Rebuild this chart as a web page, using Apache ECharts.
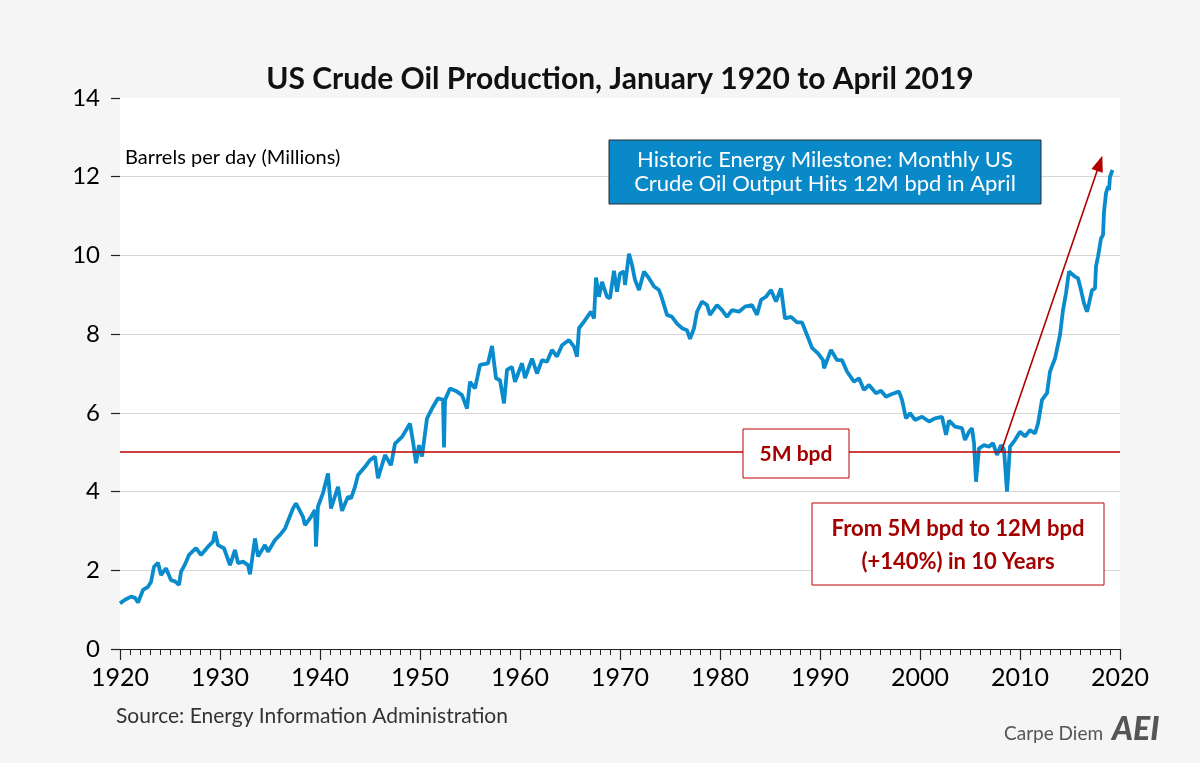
<!DOCTYPE html>
<html>
<head>
<meta charset="utf-8">
<script src="https://cdn.jsdelivr.net/npm/echarts@6/dist/echarts.min.js"></script>
<style>
html,body{margin:0;padding:0;background:#f5f5f5;}
#chart{width:1200px;height:763px;}
</style>
</head>
<body>
<div id="chart"></div>
<script>
const dates = [
1920.0,1920.5,1921.1,1921.5,1921.8,1922.3,1922.8,1923.1,1923.4,1923.8,1924.1,1924.6,1925.1,1925.5,1925.9,
1926.1,1926.5,1926.9,1927.6,1928.1,1928.8,1929.3,1929.5,1929.8,1930.4,1931.0,1931.5,1931.8,1932.3,1932.8,
1933.0,1933.5,1933.8,1934.5,1934.8,1935.5,1936.0,1936.5,1937.3,1937.6,1938.3,1938.5,1939.1,1939.5,1939.6,
1939.8,1940.3,1940.8,1941.1,1941.8,1942.2,1942.8,1943.1,1943.5,1943.8,1944.5,1945.0,1945.5,1945.8,1946.5,
1947.1,1947.5,1948.2,1949.0,1949.3,1949.6,1949.9,1950.2,1950.7,1951.2,1951.8,1952.3,1952.4,1952.5,1953.0,
1953.7,1954.2,1954.7,1955.0,1955.5,1956.0,1956.8,1957.2,1957.6,1958.0,1958.4,1958.7,1959.2,1959.5,1960.2,
1960.5,1961.2,1961.7,1962.2,1962.7,1963.2,1963.7,1964.2,1964.9,1965.4,1965.7,1965.9,1966.4,1967.1,1967.4,
1967.6,1967.9,1968.2,1968.7,1969.0,1969.4,1969.7,1970.0,1970.4,1970.5,1970.9,1971.2,1971.5,1971.9,1972.4,
1972.9,1973.4,1973.9,1974.2,1974.7,1975.2,1975.7,1976.2,1976.7,1977.0,1977.4,1977.7,1978.2,1978.7,1979.0,
1979.7,1980.2,1980.7,1981.2,1981.9,1982.5,1983.2,1983.7,1984.1,1984.6,1985.1,1985.6,1986.1,1986.5,1987.1,
1987.7,1988.2,1988.7,1989.2,1989.8,1990.3,1990.4,1991.1,1991.7,1992.2,1992.7,1993.4,1993.9,1994.4,1994.9,
1995.6,1996.1,1996.6,1997.2,1997.9,1998.2,1998.6,1999.0,1999.5,2000.2,2000.9,2001.5,2002.2,2002.6,2002.9,
2003.5,2004.2,2004.5,2004.9,2005.2,2005.4,2005.6,2005.9,2006.4,2006.9,2007.3,2007.7,2008.1,2008.4,2008.7,
2009.0,2009.5,2010.0,2010.5,2011.0,2011.5,2011.8,2012.2,2012.7,2013.0,2013.5,2014.0,2014.3,2014.6,2014.9,
2015.5,2015.8,2016.1,2016.4,2016.7,2016.9,2017.2,2017.5,2017.6,2017.8,2018.1,2018.3,2018.4,2018.6,2018.8,
2018.9,2019.0,2019.25
];
// US crude oil production, million barrels per day
const production = [
1.16,1.25,1.33,1.30,1.18,1.50,1.58,1.70,2.09,2.19,1.88,2.05,1.75,1.72,1.63,
1.96,2.15,2.39,2.56,2.39,2.60,2.73,2.98,2.64,2.56,2.13,2.52,2.18,2.22,2.13,
1.90,2.81,2.35,2.64,2.47,2.77,2.90,3.06,3.57,3.70,3.36,3.15,3.36,3.53,2.60,
3.62,3.96,4.46,3.57,4.12,3.51,3.87,3.83,4.12,4.42,4.63,4.80,4.89,4.34,4.93,
4.67,5.22,5.39,5.73,5.27,4.72,5.18,4.89,5.86,6.11,6.37,6.33,5.12,6.33,6.62,
6.54,6.45,6.11,6.79,6.62,7.22,7.26,7.70,6.88,6.83,6.24,7.09,7.17,6.79,7.26,
6.88,7.38,7.00,7.34,7.30,7.60,7.43,7.72,7.85,7.68,7.43,8.15,8.32,8.57,8.40,
9.44,8.95,9.33,8.95,8.91,9.61,9.08,9.54,9.59,9.25,10.04,9.76,9.38,9.12,9.59,
9.42,9.21,9.12,8.91,8.49,8.44,8.27,8.15,8.10,7.88,8.15,8.57,8.83,8.74,8.49,
8.74,8.61,8.44,8.61,8.57,8.70,8.74,8.49,8.87,8.95,9.12,8.83,9.16,8.40,8.44,
8.30,8.30,7.98,7.65,7.51,7.34,7.13,7.60,7.34,7.34,7.05,6.79,6.88,6.58,6.71,
6.50,6.56,6.41,6.48,6.54,6.33,5.86,5.99,5.82,5.90,5.78,5.86,5.90,5.44,5.80,
5.65,5.61,5.31,5.52,5.61,5.23,4.25,5.10,5.18,5.14,5.23,4.93,5.18,5.06,4.00,
5.14,5.31,5.52,5.40,5.56,5.48,5.73,6.33,6.50,7.05,7.38,7.98,8.61,9.04,9.59,
9.46,9.42,9.12,8.78,8.57,8.78,9.12,9.16,9.72,9.97,10.43,10.52,11.11,11.58,11.75,
11.66,12.00,12.17
];
const xTickLabels = [1920,1930,1940,1950,1960,1970,1980,1990,2000,2010,2020];
const yTickLabels = [0,2,4,6,8,10,12,14];
const referenceLevel = 5;
const arrowFrom = [2008.1, 5.0];
const arrowTo = [2017.97, 12.34];

const chart = echarts.init(document.getElementById('chart'));
const seriesData = dates.map((d, i) => [d, production[i]]);
const FONT = 'Lato, "Open Sans", sans-serif';
const DARKRED = '#a50000';

chart.setOption({
  backgroundColor: '#f5f5f5',
  animation: false,
  title: {
    text: 'US Crude Oil Production, January 1920 to April 2019',
    left: 615, top: 59, textAlign: 'center',
    textStyle: {fontFamily: FONT, fontSize: 30, fontWeight: 'bold', color: '#111'}
  },
  grid: {left: 120, right: 80, top: 98, bottom: 114, show: true,
         backgroundColor: '#ffffff', borderWidth: 0},
  xAxis: {
    type: 'value', min: xTickLabels[0], max: xTickLabels[xTickLabels.length-1], interval: 10,
    axisLine: {show: true, lineStyle: {color: '#222', width: 1}},
    axisTick: {show: true, length: 11, lineStyle: {color: '#222', width: 1.2}},
    minorTick: {show: true, splitNumber: 10, length: 6, lineStyle: {color: '#222', width: 1}},
    splitLine: {show: false},
    axisLabel: {margin: 16, fontFamily: FONT, fontSize: 25, color: '#000',
                formatter: v => xTickLabels.includes(v) ? String(v) : ''}
  },
  yAxis: {
    type: 'value', min: yTickLabels[0], max: yTickLabels[yTickLabels.length-1], interval: 2,
    axisLine: {show: false},
    axisTick: {show: true, length: 9, lineStyle: {color: '#222', width: 1.2}},
    splitLine: {show: true, lineStyle: {color: ['#d6d6d6','#d6d6d6','#d6d6d6','#d6d6d6','#d6d6d6','#d6d6d6','#d6d6d6','rgba(0,0,0,0)'], width: 1.2}},
    axisLabel: {margin: 20, fontFamily: FONT, fontSize: 24, color: '#000'}
  },
  series: [
    {
      type: 'line', data: seriesData, showSymbol: false, symbol: 'none',
      lineStyle: {color: '#0a8bcc', width: 3.8}, z: 3,
      markLine: {
        silent: true, symbol: 'none', label: {show: false},
        lineStyle: {color: '#c00000', width: 1.5, type: 'solid'},
        data: [{yAxis: referenceLevel}]
      }
    },
    {
      type: 'line', data: [], z: 5,
      markLine: {
        silent: true, symbol: ['none', 'triangle'], symbolSize: [12, 16],
        label: {show: false},
        lineStyle: {color: '#b00000', width: 1.6, type: 'solid'},
        data: [[{coord: arrowFrom}, {coord: arrowTo}]]
      }
    }
  ],
  graphic: [
    {type: 'text', left: 125, top: 148, style: {text: 'Barrels per day (Millions)', font: '20px ' + FONT, fill: '#000'}},
    {type: 'rect', shape: {x: 609, y: 140, width: 432, height: 64}, z: 10,
     style: {fill: '#0a89c9', stroke: '#2a2a2a', lineWidth: 1}},
    {type: 'text', x: 825, y: 172, z: 11,
     style: {text: 'Historic Energy Milestone: Monthly US\nCrude Oil Output Hits 12M bpd in April',
             font: '22px ' + FONT, fill: '#ffffff', align: 'center', verticalAlign: 'middle', lineHeight: 24}},
    {type: 'rect', shape: {x: 743, y: 429, width: 106, height: 49}, z: 10,
     style: {fill: '#ffffff', stroke: '#c00000', lineWidth: 1}},
    {type: 'text', x: 796, y: 454, z: 11,
     style: {text: '5M bpd', font: 'bold 21px ' + FONT, fill: DARKRED, align: 'center', verticalAlign: 'middle'}},
    {type: 'rect', shape: {x: 812, y: 503, width: 292, height: 82}, z: 10,
     style: {fill: '#ffffff', stroke: '#c00000', lineWidth: 1}},
    {type: 'text', x: 958, y: 545, z: 11,
     style: {text: 'From 5M bpd to 12M bpd\n(+140%) in 10 Years', font: 'bold 22px ' + FONT,
             fill: DARKRED, align: 'center', verticalAlign: 'middle', lineHeight: 33}},
    {type: 'text', left: 116, top: 706, style: {text: 'Source: Energy Information Administration', font: '21px ' + FONT, fill: '#333'}},
    {type: 'text', left: 1004, top: 724, style: {text: 'Carpe Diem', font: '19px ' + FONT, fill: '#555'}},
    {type: 'text', left: 1112, top: 714, style: {text: 'AEI', font: 'italic 900 32px ' + FONT, fill: '#555'}}
  ]
});
</script>
</body>
</html>
